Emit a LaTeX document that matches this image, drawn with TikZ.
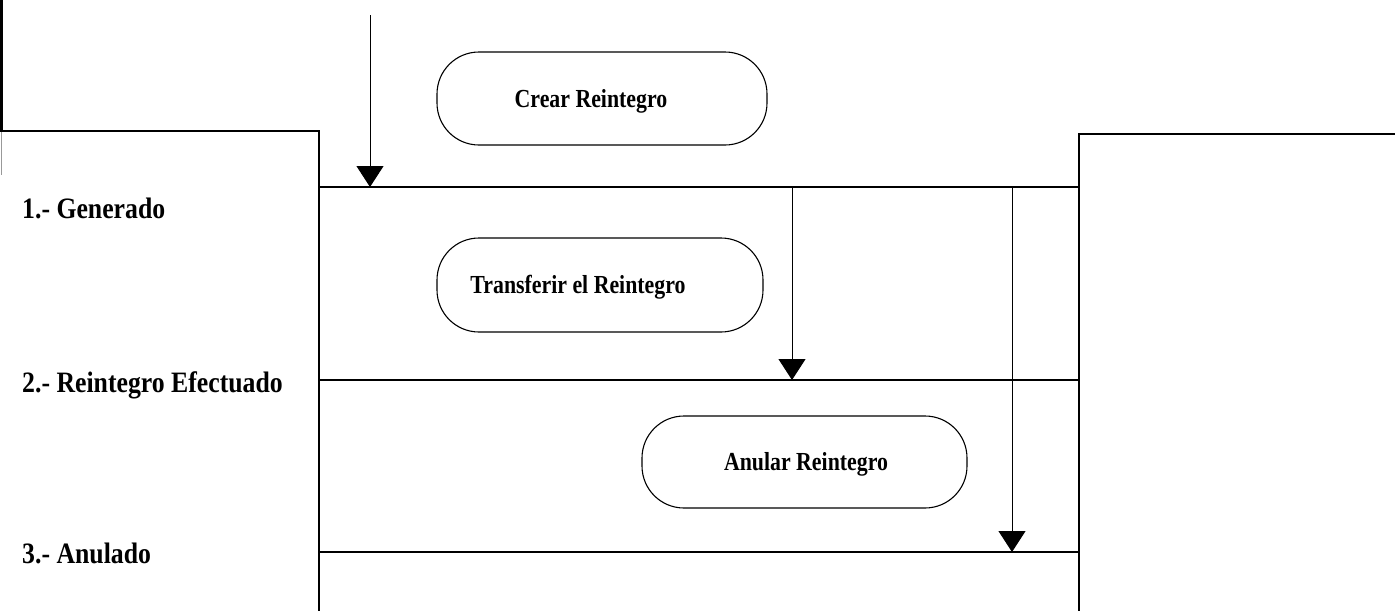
\documentclass[tikz,border=0pt]{standalone}
\usepackage{fontspec}
\setmainfont{Liberation Serif}
\newfontfamily\lblfont[FakeStretch=0.87]{Liberation Serif}
\newfontfamily\actfont[FakeStretch=0.84]{Liberation Serif}
\usetikzlibrary{arrows.meta}

\begin{document}
\begin{tikzpicture}[x=1pt,y=-1pt,
  lane/.style={line width=1.3pt},
  activity/.style={draw, line width=1.1pt, rounded corners=42pt, inner sep=0pt},
  acttext/.style={font=\actfont\bfseries\fontsize{26}{30}\selectfont, anchor=base, inner sep=0pt},
  statelabel/.style={font=\lblfont\bfseries\fontsize{29.6}{34}\selectfont, anchor=base west, inner sep=0pt},
  flow/.style={line width=1pt, -{Triangle[width=27pt,length=21pt]}},
]
\useasboundingbox (0,0) rectangle (1395,611);

% left margin bar
\fill (0,0) rectangle (3,131);
\draw[black!40, line width=0.8pt] (1,131) -- (1,175);

% outer frame corners
\coordinate (tl) at (0,131);
\coordinate (lt) at (319,131);
\coordinate (lb) at (319,611);
\coordinate (rt) at (1079,134);
\coordinate (rb) at (1079,611);
\coordinate (tr) at (1395,134);
\draw[lane] (tl) -- (lt) -- (lb);
\draw[lane] (tr) -- (rt) -- (rb);

% state lines
\coordinate (s1w) at (319,187); \coordinate (s1e) at (1079,187);
\coordinate (s2w) at (319,380); \coordinate (s2e) at (1079,380);
\coordinate (s3w) at (319,552); \coordinate (s3e) at (1079,552);
\draw[lane] (s1w) -- (s1e);
\draw[lane] (s2w) -- (s2e);
\draw[lane] (s3w) -- (s3e);

% state labels
\node[statelabel] (l1) at (22,218) {1.- Generado};
\node[statelabel] (l2) at (22,392) {2.- Reintegro Efectuado};
\node[statelabel] (l3) at (22,563) {3.- Anulado};

% activities
\node[activity, minimum width=330pt, minimum height=93pt] (crear) at (602,98.5) {};
\node[acttext] (crearT) at (591,107) {Crear Reintegro};
\node[activity, minimum width=326pt, minimum height=94pt] (transf) at (600,285) {};
\node[acttext] (transfT) at (578,293.5) {Transferir el Reintegro};
\node[activity, minimum width=325pt, minimum height=92pt] (anular) at (804.5,462) {};
\node[acttext] (anularT) at (806,470.5) {Anular Reintegro};

% transitions
\coordinate (a0s) at (370,15);  \coordinate (a0e) at (370,187);
\coordinate (a1s) at (792,187); \coordinate (a1e) at (792,380);
\coordinate (a2s) at (1012,188); \coordinate (a2e) at (1012,552);
\draw[flow] (a0s) -- (a0e);
\draw[flow] (a1s) -- (a1e);
\draw[flow] (a2s) -- (a2e);
\end{tikzpicture}
\end{document}
